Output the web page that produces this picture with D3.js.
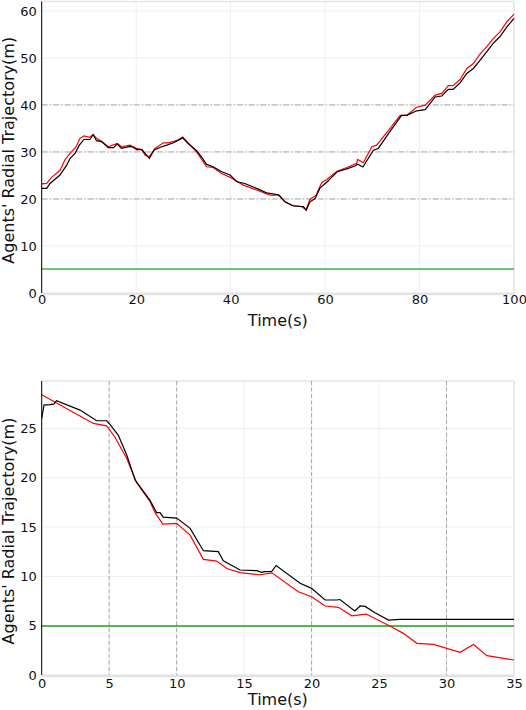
<!DOCTYPE html>
<html lang="en">
<head>
  <meta charset="UTF-8" />
  <title>Agents' Radial Trajectory</title>
  <script src="https://d3js.org/d3.v7.min.js"></script>
  <style>
    body {
      margin: 0;
      padding: 0;
      background: #ffffff;
    }
    svg text {
      font-family: "DejaVu Sans", sans-serif;
      fill: #111;
    }
  </style>
</head>
<body>
  <div id="chart"></div>

  <script>
    // ---- top panel data (time in s, radial distance in m) ----
    const topBlackT = [0, 1.06, 1.76, 3.87, 5.29, 6.0, 7.05, 7.97, 8.96, 10.2, 10.9, 11.6, 12.7, 14.1, 15.2, 16.0, 16.9, 18.7, 19.4, 20.1, 21.2, 21.9, 22.8, 23.8, 25.4, 26.5, 27.9, 29.85, 31.0, 32.8, 33.9, 34.9, 36.3, 38.1, 39.9, 41.3, 43.0, 45.5, 47.6, 50.1, 51.5, 53.3, 55.4, 56.0, 56.8, 57.9, 58.9, 60.3, 62.6, 64.6, 66.3, 66.9, 68.0, 70.2, 71.3, 73.9, 76.2, 77.3, 79.4, 81.2, 83.3, 84.7, 86.1, 87.1, 88.6, 90.0, 91.4, 92.8, 94.2, 95.6, 97.0, 98.5, 100];
    const topBlackR = [22.25, 22.25, 23.3, 25.1, 27.2, 28.6, 29.7, 31.45, 32.65, 32.65, 33.7, 32.4, 32.2, 30.9, 30.9, 31.67, 30.75, 31.2, 31.0, 30.5, 30.5, 29.7, 28.6, 30.4, 31.1, 31.45, 31.95, 33.0, 31.8, 30.25, 28.85, 27.35, 26.85, 25.8, 25.1, 23.66, 23.3, 22.25, 21.3, 20.9, 19.4, 18.5, 18.4, 17.6, 19.4, 20.1, 22.3, 23.5, 25.8, 26.4, 27.0, 27.4, 26.8, 30.3, 30.8, 34.6, 37.8, 37.8, 38.75, 39.0, 41.7, 41.9, 43.3, 43.3, 44.7, 46.7, 47.75, 49.5, 51.3, 53.1, 54.5, 56.6, 58.4];

    const topRedT = [0, 1.06, 2.1, 3.9, 4.9, 6.0, 7.3, 8.1, 8.96, 10.1, 10.9, 11.6, 12.7, 14.1, 16.0, 16.9, 18.7, 20.1, 21.2, 21.9, 22.8, 24.0, 25.75, 26.8, 28.6, 29.85, 31.0, 32.8, 34.9, 36.3, 38.1, 39.9, 42.7, 45.5, 48.3, 50.3, 51.5, 52.9, 55.0, 56.0, 56.8, 58.1, 59.3, 60.3, 62.5, 64.6, 66.7, 66.9, 68.1, 69.9, 70.9, 73.6, 75.9, 77.3, 79.4, 81.2, 83.3, 84.7, 86.1, 87.1, 88.6, 90.0, 91.4, 92.8, 94.2, 95.6, 97.0, 98.5, 100];
    const topRedR = [23.2, 23.3, 24.6, 26.1, 28.3, 29.7, 31.1, 32.9, 33.4, 33.1, 33.7, 32.9, 32.2, 31.1, 31.8, 31.1, 31.45, 30.75, 30.5, 29.3, 29.0, 30.75, 31.95, 31.95, 32.4, 33.2, 31.95, 30.0, 26.85, 26.7, 25.4, 24.6, 22.95, 21.9, 20.8, 20.8, 19.4, 18.7, 18.35, 17.75, 19.9, 20.8, 23.5, 24.1, 25.9, 26.7, 27.6, 28.4, 27.7, 31.1, 31.45, 34.8, 37.8, 37.8, 39.5, 39.95, 42.1, 42.45, 44.1, 44.1, 45.4, 47.75, 48.8, 50.8, 52.35, 54.1, 55.5, 57.7, 59.3];

    // ---- bottom panel data ----
    const botBlackT = [0, 0.17, 0.6, 0.9, 1.1, 2.84, 4.07, 4.81, 5.06, 5.68, 6.3, 6.92, 8.03, 8.52, 8.77, 9.0, 10.0, 11.0, 11.98, 13.09, 13.46, 14.7, 15.94, 16.3, 16.5, 17.05, 17.37, 19.15, 20.0, 21.0, 21.87, 22.1, 23.2, 23.6, 23.97, 24.7, 25.7, 26.56, 35];
    const botBlackR = [26.0, 27.35, 27.4, 27.45, 27.8, 26.85, 25.77, 25.77, 25.4, 24.3, 22.3, 19.76, 17.7, 16.45, 16.45, 16.0, 15.9, 14.86, 12.6, 12.5, 11.58, 10.64, 10.57, 10.4, 10.47, 10.5, 11.1, 9.29, 8.78, 7.6, 7.6, 7.65, 6.5, 7.0, 6.95, 6.3, 5.57, 5.64, 5.64];

    const botRedT = [0, 3.83, 4.81, 5.43, 6.3, 7.04, 8.03, 8.4, 8.97, 10.0, 11.0, 11.98, 12.97, 13.71, 14.7, 16.18, 17.05, 19.02, 20.0, 21.0, 21.99, 22.98, 24.04, 25.8, 26.8, 27.8, 29.03, 31.0, 32.0, 32.99, 35];
    const botRedR = [28.4, 25.5, 25.26, 24.1, 21.95, 19.5, 17.56, 16.45, 15.3, 15.37, 14.18, 11.72, 11.55, 10.8, 10.37, 10.16, 10.36, 8.44, 7.93, 6.99, 6.86, 6.0, 6.18, 4.96, 4.22, 3.21, 3.1, 2.3, 3.1, 1.96, 1.52];

    // safety radius
    const safeRadius = 5;

    // ticks
    const topXTicks = [0, 20, 40, 60, 80, 100];
    const topYTicks = [0, 10, 20, 30, 40, 50, 60];
    const topDashY = [20, 30, 40];
    const botXTicks = [0, 5, 10, 15, 20, 25, 30, 35];
    const botYTicks = [0, 5, 10, 15, 20, 25];
    const botDashX = [5, 10, 20, 30];

    const xLabel = "Time(s)";
    const yLabel = "Agents' Radial Trajectory(m)";

    const W = 526, H = 710;
    const svg = d3.select("#chart").append("svg")
      .attr("width", W)
      .attr("height", H);

    function zip(ts, rs) {
      return ts.map((t, i) => ({ t: t, r: rs[i] }));
    }

    function drawPanel(p) {
      const x = d3.scaleLinear().domain(p.xDomain).range([p.left, p.right]);
      const y = d3.scaleLinear().domain(p.yDomain).range([p.bottom, p.top]);
      const g = svg.append("g");

      // faint grid
      g.selectAll(".gx").data(p.xTicks).enter().append("line")
        .attr("x1", d => x(d)).attr("x2", d => x(d))
        .attr("y1", p.top).attr("y2", p.bottom)
        .attr("stroke", "#efefef").attr("stroke-width", 1);
      g.selectAll(".gy").data(p.yTicks).enter().append("line")
        .attr("x1", p.left).attr("x2", p.right)
        .attr("y1", d => y(d)).attr("y2", d => y(d))
        .attr("stroke", "#efefef").attr("stroke-width", 1);

      // frame (light grey) on top, right and bottom
      g.append("line").attr("x1", p.left).attr("x2", p.right)
        .attr("y1", p.top).attr("y2", p.top)
        .attr("stroke", "#e6e6e6").attr("stroke-width", 1.5);
      g.append("line").attr("x1", p.right).attr("x2", p.right)
        .attr("y1", p.top).attr("y2", p.bottom)
        .attr("stroke", "#e6e6e6").attr("stroke-width", 1.5);
      g.append("line").attr("x1", p.left).attr("x2", p.right)
        .attr("y1", p.bottom + 1).attr("y2", p.bottom + 1)
        .attr("stroke", "#e3e3e3").attr("stroke-width", 2.5);

      // dashed reference lines
      if (p.dashY) {
        g.selectAll(".dy").data(p.dashY).enter().append("line")
          .attr("x1", p.left).attr("x2", p.right)
          .attr("y1", d => y(d)).attr("y2", d => y(d))
          .attr("stroke", "#a8a8a8").attr("stroke-width", 1)
          .attr("stroke-dasharray", "6,2,1.5,2");
      }
      if (p.dashX) {
        g.selectAll(".dx").data(p.dashX).enter().append("line")
          .attr("x1", d => x(d)).attr("x2", d => x(d))
          .attr("y1", p.top).attr("y2", p.bottom)
          .attr("stroke", "#a8a8a8").attr("stroke-width", 1)
          .attr("stroke-dasharray", "4,2.5");
      }

      // safe radius line
      const gy = Math.round(y(safeRadius));
      g.append("line")
        .attr("x1", x(p.xDomain[0])).attr("x2", x(p.xDomain[1]))
        .attr("y1", gy).attr("y2", gy)
        .style("stroke", p.greenColor)
        .style("stroke-width", p.greenWidth);

      const line = d3.line().x(d => x(d.t)).y(d => y(d.r));

      g.append("path").datum(p.red)
        .attr("fill", "none").attr("stroke", "#ff0000")
        .attr("stroke-width", 1.2).attr("d", line);
      g.append("path").datum(p.black)
        .attr("fill", "none").attr("stroke", "#000000")
        .attr("stroke-width", 1.2).attr("d", line);

      // axes
      const yAxis = g.append("g")
        .attr("transform", `translate(${p.left},0)`)
        .call(d3.axisLeft(y).tickValues(p.yTicks).tickSize(0).tickPadding(5));
      yAxis.select(".domain").remove();
      yAxis.selectAll("text")
        .style("font-size", "13px")
        .style("font-family", "'DejaVu Sans', sans-serif")
        .attr("fill", "#111");

      const xAxis = g.append("g")
        .attr("transform", `translate(0,${p.bottom})`)
        .call(d3.axisBottom(x).tickValues(p.xTicks).tickSize(0).tickPadding(p.xPad));
      xAxis.select(".domain").remove();
      xAxis.selectAll("text")
        .style("font-size", "13px")
        .style("font-family", "'DejaVu Sans', sans-serif")
        .attr("fill", "#111");

      // left spine
      g.append("line").attr("x1", p.left).attr("x2", p.left)
        .attr("y1", p.top).attr("y2", p.bottom)
        .attr("stroke", "#000").attr("stroke-width", 1);

      // labels
      g.append("text")
        .attr("x", (p.left + p.right) / 2)
        .attr("y", p.xLabelY)
        .attr("text-anchor", "middle")
        .style("font-size", "16px")
        .text(xLabel);

      g.append("text")
        .attr("transform", `translate(14,${(p.top + p.bottom) / 2 + 3}) rotate(-90)`)
        .attr("text-anchor", "middle")
        .style("font-size", "16px")
        .text(yLabel);
    }

    drawPanel({
      left: 41.7, right: 514, top: 1.5, bottom: 293,
      xDomain: [0, 100], yDomain: [0, 62],
      xTicks: topXTicks, yTicks: topYTicks,
      dashY: topDashY,
      greenColor: "#3cb43c", greenWidth: 1.6,
      xPad: 2, xLabelY: 326,
      black: zip(topBlackT, topBlackR),
      red: zip(topRedT, topRedR)
    });

    drawPanel({
      left: 41.7, right: 514, top: 381, bottom: 675,
      xDomain: [0, 35], yDomain: [0, 29.8],
      xTicks: botXTicks, yTicks: botYTicks,
      dashX: botDashX,
      greenColor: "#1ca01c", greenWidth: 1.6,
      xPad: 4, xLabelY: 705,
      black: zip(botBlackT, botBlackR),
      red: zip(botRedT, botRedR)
    });
  </script>
</body>
</html>
